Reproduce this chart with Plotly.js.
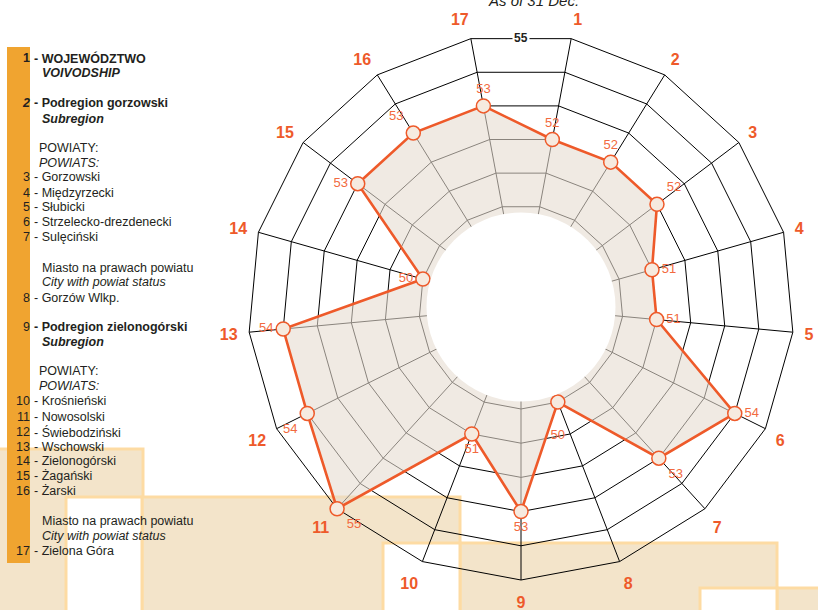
<!DOCTYPE html>
<html>
<head>
<meta charset="utf-8">
<script src="https://cdn.plot.ly/plotly-3.0.1.min.js"></script>
<style>html,body{margin:0;padding:0;background:#fff;}#chart{width:818px;height:610px;}</style>
</head>
<body>
<div id="chart"></div>
<script>
// ---- data ----
const categories = ['1','2','3','4','5','6','7','8','9','10','11','12','13','14','15','16','17'];
const values = [52, 52, 52, 51, 51, 54, 53, 50, 53, 51, 55, 54, 54, 50, 53, 53, 53];
const labelPositions = ['top center','top center','top right','middle right','middle right','middle right',
  'bottom right','bottom center','bottom center','bottom center','bottom right','bottom left',
  'middle left','middle left','middle left','top left','top center'];
const radialTicks = [50, 51, 52, 53, 54, 55];
const radialTopLabel = '55';
const titleText = 'As of 31 Dec.';

const legendNumbers = ['1','2','3','4','5','6','7','8','9','10','11','12','13','14','15','16','17'];
const legendNames = ['WOJEWÓDZTWO','Podregion gorzowski','Gorzowski','Międzyrzecki','Słubicki',
  'Strzelecko-drezdenecki','Sulęciński','Gorzów Wlkp.','Podregion zielonogórski','Krośnieński',
  'Nowosolski','Świebodziński','Wschowski','Zielonogórski','Żagański','Żarski','Zielona Góra'];
const legendSubLines = [
  ['<b><i>VOIVODSHIP</i></b>', 73],
  ['<b><i>Subregion</i></b>', 119],
  ['POWIATY:', 148, 38],
  ['<i>POWIATS:</i>', 163, 38],
  ['Miasto na prawach powiatu', 268],
  ['<i>City with powiat status</i>', 282],
  ['<b><i>Subregion</i></b>', 342],
  ['POWIATY:', 371, 38],
  ['<i>POWIATS:</i>', 386, 38],
  ['Miasto na prawach powiatu', 521],
  ['<i>City with powiat status</i>', 536]
];
const legendRowY = [58,103,177,193,207,222,237,298,327,401,417,432,447,461,476,491,551];

// ---- layout helpers ----
const W = 818, H = 610;
const px = x => x / W;
const py = y => 1 - y / H;
const cx = 521, cy = 307, R = 273, holePx = 92, holeCircle = 94.5;

const orange = '#EE5A2A';
const textCol = '#231F20';
const fnt = 'Liberation Sans, Arial, sans-serif';

const closedR = values.concat([values[0]]);
const closedT = categories.concat([categories[0]]);

const labelTexts = values.map((v, i) => labelPositions[i] === 'bottom center' && v === 50 ? '<br>' + v : String(v));

const traces = [
  {
    type: 'scatterpolar',
    r: closedR, theta: closedT,
    mode: 'lines',
    fill: 'toself',
    fillcolor: 'rgba(230,220,208,0.6)',
    line: {color: orange, width: 2.6},
    hoverinfo: 'skip',
    showlegend: false
  },
  {
    type: 'scatterpolar',
    r: values, theta: categories,
    mode: 'markers+text',
    text: labelTexts,
    textposition: labelPositions,
    textfont: {family: fnt, size: 13, color: '#F26A40'},
    marker: {size: 14, color: '#F6EADF', line: {color: orange, width: 1.5}},
    cliponaxis: false,
    showlegend: false
  }
];

const beigeFill = '#F3E4CA', beigeLine = '#FDDBA3';
function rect(x0,y0,x1,y1,fill){
  return {type:'rect', xref:'paper', yref:'paper', x0:px(x0), x1:px(x1), y0:py(y0), y1:py(y1),
    fillcolor: fill, line:{color: beigeLine, width: 3}, layer:'below'};
}
const shapes = [
  rect(-5,449,143,640,beigeFill),
  rect(142,497,460,640,beigeFill),
  rect(460,543,777,640,beigeFill),
  rect(777,588,840,640,beigeFill),
  rect(66,497,142,640,'#FFFFFF'),
  rect(383,543,460,640,'#FFFFFF'),
  rect(700,588,777,640,'#FFFFFF'),
  {type:'rect', xref:'paper', yref:'paper', x0:px(7), x1:px(30), y0:py(47), y1:py(563),
    fillcolor:'#F0A430', line:{width:0}, layer:'below'},
  {type:'circle', xref:'paper', yref:'paper', x0:px(cx-holeCircle), x1:px(cx+holeCircle),
    y0:py(cy+holeCircle), y1:py(cy-holeCircle), fillcolor:'#FFFFFF', line:{width:0}, layer:'above'}
];

const annotations = [];
function ann(text, x, y, anchor, extra){
  annotations.push(Object.assign({xref:'paper', yref:'paper', x:px(x), y:py(y), text:text,
    showarrow:false, xanchor:anchor, yanchor:'middle', align:anchor, borderpad:0,
    font:{family:fnt, size:12.5, color:textCol}}, extra||{}));
}
legendNumbers.forEach((n, i) => {
  let num = n, name = '- ' + legendNames[i];
  if (n === '1') { num = '<b>1</b>'; name = '<b>- ' + legendNames[i] + '</b>'; }
  else if (n === '2') { num = '<b><i>2</i></b>'; name = '<b>- ' + legendNames[i] + '</b>'; }
  else if (n === '9') { name = '<b>- ' + legendNames[i] + '</b>'; }
  ann(num, 31, legendRowY[i], 'right');
  ann(name, 33, legendRowY[i], 'left');
});
legendSubLines.forEach(s => ann(s[0], s[2] || 41, s[1], 'left'));

ann('<b>' + radialTopLabel + '</b>', cx, 38.5, 'center', {bgcolor:'#FFFFFF', borderpad:1,
  font:{family:fnt, size:12, color:textCol}});
ann('<i>' + titleText + '</i>', 533, 1, 'center', {font:{family:fnt, size:15, color:textCol}});

const layout = {
  width: W, height: H,
  margin: {l:0, r:0, t:0, b:0},
  paper_bgcolor: '#FFFFFF',
  showlegend: false,
  shapes: shapes,
  annotations: annotations,
  polar: {
    domain: {x: [px(cx - R), px(cx + R)], y: [py(cy + R), py(cy - R)]},
    bgcolor: 'rgba(0,0,0,0)',
    gridshape: 'linear',
    hole: holePx / R,
    radialaxis: {
      range: [49.708, 55],
      tickvals: radialTicks,
      showticklabels: false,
      showline: false,
      ticks: '',
      gridcolor: '#000000',
      gridwidth: 1,
      layer: 'below traces'
    },
    angularaxis: {
      type: 'category',
      categoryarray: categories,
      rotation: 90 - 360 / categories.length / 2,
      direction: 'clockwise',
      showline: true,
      linecolor: '#000000',
      linewidth: 1,
      gridcolor: '#000000',
      gridwidth: 1,
      ticks: 'outside',
      ticklen: 8,
      tickcolor: 'rgba(0,0,0,0)',
      tickfont: {family: fnt, size: 16, color: orange, weight: 'bold'},
      layer: 'below traces'
    }
  }
};

Plotly.newPlot('chart', traces, layout, {displayModeBar: false, staticPlot: true});
</script>
</body>
</html>
